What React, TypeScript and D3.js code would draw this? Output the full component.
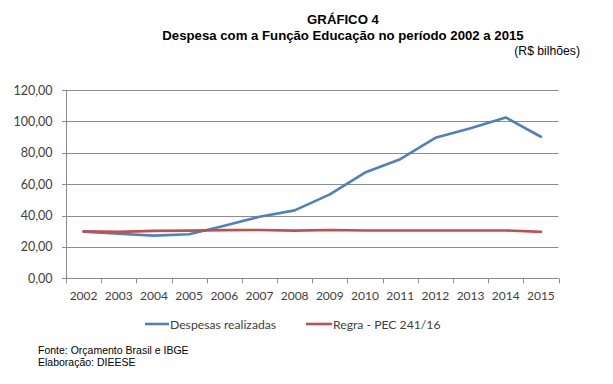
import React, { useEffect, useRef } from 'react';
import * as d3 from 'd3';

const years = ['2002', '2003', '2004', '2005', '2006', '2007', '2008', '2009', '2010', '2011', '2012', '2013', '2014', '2015'];
const despesas = [29.7, 28.4, 27.2, 28.1, 33.5, 39.2, 43.3, 53.5, 67.4, 75.9, 89.5, 95.6, 102.5, 90.2];
const regra = [30.0, 29.6, 30.2, 30.4, 30.7, 30.8, 30.4, 30.8, 30.5, 30.5, 30.5, 30.5, 30.5, 29.6];
const yTicks = [0, 20, 40, 60, 80, 100, 120];
const seriesNames = ['Despesas realizadas', 'Regra - PEC 241/16'];

const blue = '#4f81bd';
const red = '#c0504d';
const gridColor = '#8c8c8c';
const labelFont = 'Lato, "Open Sans", sans-serif';
const titleFont = '"Liberation Sans", Arial, sans-serif';

const App: React.FC = () => {
  const ref = useRef<SVGSVGElement>(null);
  const width = 613;
  const height = 384;

  useEffect(() => {
    if (!ref.current) return;
    const svg = d3.select(ref.current);
    svg.selectAll('*').remove();

    const left = 66;
    const right = 558.5;
    const top = 90;
    const bottom = 278.3;

    const x = d3.scaleBand<string>().domain(years).range([left, right]).padding(0);
    const y = d3.scaleLinear().domain([0, 120]).range([bottom, top]);
    const cx = (d: string) => (x(d) as number) + x.bandwidth() / 2;

    svg.append('rect').attr('width', width).attr('height', height).attr('fill', '#fff');

    // titles
    svg
      .append('text')
      .attr('x', 343)
      .attr('y', 23.5)
      .attr('text-anchor', 'middle')
      .attr('font-family', titleFont)
      .attr('font-weight', 'bold')
      .attr('font-size', 13.2)
      .text('GRÁFICO 4');
    svg
      .append('text')
      .attr('x', 343)
      .attr('y', 39.5)
      .attr('text-anchor', 'middle')
      .attr('font-family', titleFont)
      .attr('font-weight', 'bold')
      .attr('font-size', 13.2)
      .text('Despesa com a Função Educação no período 2002 a 2015');
    svg
      .append('text')
      .attr('x', 580)
      .attr('y', 55)
      .attr('text-anchor', 'end')
      .attr('font-family', titleFont)
      .attr('font-size', 12.2)
      .text('(R$ bilhões)');

    // grid
    svg
      .append('g')
      .selectAll('line')
      .data(yTicks)
      .enter()
      .append('line')
      .attr('x1', left - 4)
      .attr('x2', right)
      .attr('y1', d => Math.round(y(d)) + 0.5)
      .attr('y2', d => Math.round(y(d)) + 0.5)
      .attr('stroke', gridColor)
      .attr('stroke-width', 1);

    svg
      .append('line')
      .attr('x1', left + 0.5)
      .attr('x2', left + 0.5)
      .attr('y1', top)
      .attr('y2', bottom + 0.5)
      .attr('stroke', gridColor);

    // y labels
    svg
      .append('g')
      .selectAll('text')
      .data(yTicks)
      .enter()
      .append('text')
      .attr('x', 52.5)
      .attr('y', d => y(d) + 4.5)
      .attr('text-anchor', 'end')
      .attr('font-family', labelFont)
      .attr('font-size', 12.5)
      .attr('fill', '#404040')
      .text(d => d3.format('.2f')(d).replace('.', ','));

    // x ticks at band edges
    const edges = years.map(d => x(d) as number).concat([right]);
    svg
      .append('g')
      .selectAll('line')
      .data(edges)
      .enter()
      .append('line')
      .attr('x1', d => Math.round(d) + 0.5)
      .attr('x2', d => Math.round(d) + 0.5)
      .attr('y1', bottom)
      .attr('y2', bottom + 5)
      .attr('stroke', gridColor);

    svg
      .append('g')
      .selectAll('text')
      .data(years)
      .enter()
      .append('text')
      .attr('x', d => cx(d))
      .attr('y', 299.5)
      .attr('text-anchor', 'middle')
      .attr('font-family', labelFont)
      .attr('font-size', 12)
      .attr('fill', '#404040')
      .text(d => d);

    // lines
    const line = d3
      .line<number>()
      .x((_, i) => cx(years[i]))
      .y(d => y(d));

    [
      { values: despesas, color: blue },
      { values: regra, color: red },
    ].forEach(s => {
      svg
        .append('path')
        .datum(s.values)
        .attr('fill', 'none')
        .attr('stroke', s.color)
        .attr('stroke-width', 2.6)
        .attr('stroke-linejoin', 'round')
        .attr('stroke-linecap', 'round')
        .attr('d', line);
    });

    // legend
    const legend = [
      { name: seriesNames[0], color: blue, x0: 145, x1: 169 },
      { name: seriesNames[1], color: red, x0: 306, x1: 332 },
    ];
    legend.forEach(l => {
      svg
        .append('line')
        .attr('x1', l.x0)
        .attr('x2', l.x1)
        .attr('y1', 324)
        .attr('y2', 324)
        .attr('stroke', l.color)
        .attr('stroke-width', 2.6);
      svg
        .append('text')
        .attr('x', l.x1 + 1)
        .attr('y', 328.5)
        .attr('font-family', labelFont)
        .attr('font-size', 12.2)
        .attr('fill', '#404040')
        .text(l.name);
    });

    // source
    svg
      .append('text')
      .attr('x', 38)
      .attr('y', 354)
      .attr('font-family', titleFont)
      .attr('font-size', 10.5)
      .text('Fonte: Orçamento Brasil e IBGE');
    svg
      .append('text')
      .attr('x', 38)
      .attr('y', 366)
      .attr('font-family', titleFont)
      .attr('font-size', 10.5)
      .text('Elaboração: DIEESE');
  }, []);

  return (
    <svg
      ref={ref}
      width={width}
      height={height}
      style={{ position: 'absolute', left: 0, top: 0, display: 'block' }}
    />
  );
};

export default App;
